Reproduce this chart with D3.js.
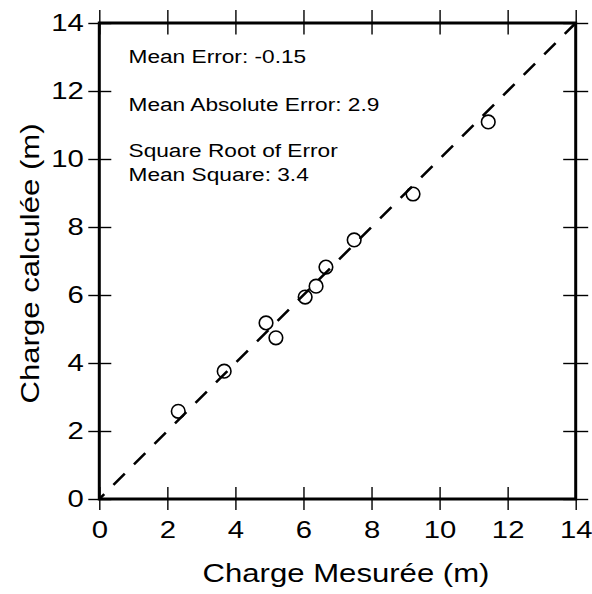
<!DOCTYPE html>
<meta charset="utf-8">
<script src="https://cdn.jsdelivr.net/npm/d3@7/dist/d3.min.js"></script>
<style>
body { margin: 0; background: #fff; }
text { font-family: "Liberation Sans", Arial, sans-serif; fill: #000; }
</style>
<body>
<script>

// measured vs computed head (m)
var mesuree  = [2.32, 3.67, 4.90, 5.19, 6.05, 6.37, 6.66, 7.49, 9.22, 11.43];
var calculee = [2.58, 3.76, 5.18, 4.74, 5.94, 6.26, 6.82, 7.62, 8.97, 11.09];
var ticks = [0, 2, 4, 6, 8, 10, 12, 14];
var stats = ["Mean Error: -0.15", "Mean Absolute Error: 2.9", "Square Root of Error", "Mean Square: 3.4"];

var width = 592, height = 594;
var x0 = 99.3, x1 = 575.7, y0 = 499, y1 = 23;
var SX = 1.22; // the original lettering is a little wider than Arial

var x = d3.scaleLinear().domain([0, 14]).range([x0, x1]);
var y = d3.scaleLinear().domain([0, 14]).range([y0, y1]);

var svg = d3.select("body").append("svg")
    .attr("width", width)
    .attr("height", height);

// 1:1 line
svg.append("line")
    .attr("x1", x(0)).attr("y1", y(0))
    .attr("x2", x(14)).attr("y2", y(14))
    .style("stroke", "#000")
    .style("stroke-width", 2.6)
    .style("stroke-dasharray", "16,13")
    .style("stroke-dashoffset", 9);

// points
svg.append("g").selectAll("circle")
    .data(mesuree)
    .enter().append("circle")
    .attr("cx", function(d) { return x(d); })
    .attr("cy", function(d, i) { return y(calculee[i]); })
    .attr("r", 6.8)
    .style("fill", "none")
    .style("stroke", "#000")
    .style("stroke-width", 1.6);

// crossing ticks on all four sides
function crossAxis(axis, tr) {
  var g = svg.append("g").attr("transform", tr).call(axis)
      .attr("font-size", 24)
      .attr("font-family", "Liberation Sans, Arial, sans-serif");
  g.select(".domain").remove();
  g.selectAll(".tick line").style("stroke-width", 1.4);
  return g;
}

var axBottom = crossAxis(d3.axisBottom(x).tickValues(ticks).tickSizeInner(11).tickSizeOuter(0).tickPadding(11),
    "translate(0," + y0 + ")");
axBottom.selectAll(".tick line").attr("y1", -12);
axBottom.selectAll(".tick text").attr("transform", "scale(" + SX + ",1)");

var axLeft = crossAxis(d3.axisLeft(y).tickValues(ticks).tickSizeInner(11).tickSizeOuter(0),
    "translate(" + x0 + ",0)");
axLeft.selectAll(".tick line").attr("x1", 12);
axLeft.selectAll(".tick text")
    .attr("x", -15.5 / SX)
    .attr("transform", "scale(" + SX + ",1)");

var axTop = crossAxis(d3.axisTop(x).tickValues(ticks).tickSizeInner(13).tickSizeOuter(0).tickFormat(""),
    "translate(0," + y1 + ")");
axTop.selectAll(".tick line").attr("y1", 11.5);

var axRight = crossAxis(d3.axisRight(y).tickValues(ticks).tickSizeInner(12.5).tickSizeOuter(0).tickFormat(""),
    "translate(" + x1 + ",0)");
axRight.selectAll(".tick line").attr("x1", -12.5);

// frame
svg.append("rect")
    .attr("x", x0).attr("y", y1)
    .attr("width", x1 - x0).attr("height", y0 - y1)
    .style("fill", "none")
    .style("stroke", "#000")
    .style("stroke-width", 3);

// stats text
var statY = [63.3, 110.7, 157, 180.7];
svg.append("g").selectAll("text")
    .data(stats)
    .enter().append("text")
    .attr("transform", function(d, i) { return "translate(128.5," + statY[i] + ") scale(" + SX + ",1)"; })
    .style("font-size", "18.6px")
    .text(function(d) { return d; });

// axis titles
svg.append("text")
    .attr("transform", "translate(346,581.5) scale(" + SX + ",1)")
    .attr("text-anchor", "middle")
    .style("font-size", "25.5px")
    .text("Charge Mesurée (m)");

svg.append("text")
    .attr("transform", "translate(38.5,263.5) rotate(-90) scale(" + SX + ",1)")
    .attr("text-anchor", "middle")
    .style("font-size", "25.5px")
    .text("Charge calculée (m)");

</script>
</body>
